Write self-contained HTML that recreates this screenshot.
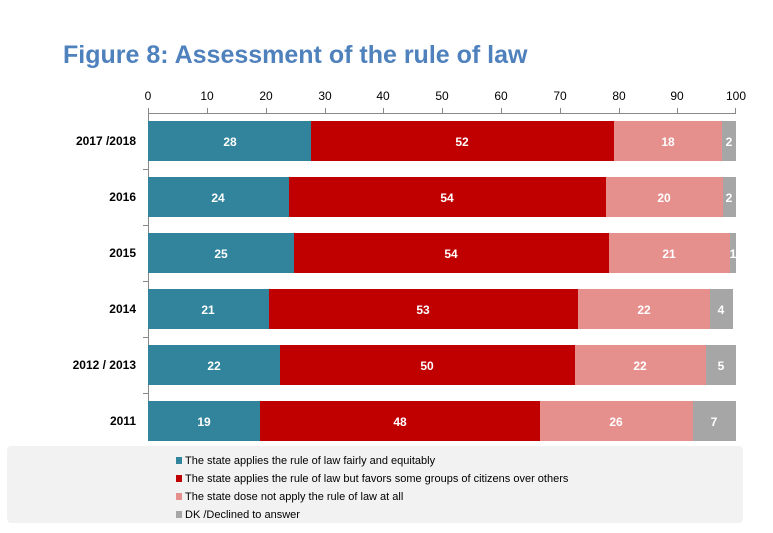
<!DOCTYPE html>
<html><head><style>body{margin:0;background:#fff}svg{display:block}</style></head><body>
<svg width="773" height="533" xmlns="http://www.w3.org/2000/svg" font-family="Liberation Sans, sans-serif">
<rect width="773" height="533" fill="#fff"/>
<text x="63" y="63" font-size="25" font-weight="bold" fill="#4F81BD">Figure 8: Assessment of the rule of law</text>
<g font-size="12" fill="#000" text-anchor="middle">
<text x="148" y="100">0</text><text x="207" y="100">10</text><text x="266" y="100">20</text><text x="325" y="100">30</text><text x="383" y="100">40</text><text x="442" y="100">50</text><text x="501" y="100">60</text><text x="560" y="100">70</text><text x="619" y="100">80</text><text x="677" y="100">90</text><text x="736" y="100">100</text>
</g>
<g stroke="#888" stroke-width="1">
<line x1="148" y1="113.5" x2="736" y2="113.5"/>
<line x1="148.5" y1="108" x2="148.5" y2="441"/>
<line x1="207.5" y1="108" x2="207.5" y2="113"/><line x1="266.5" y1="108" x2="266.5" y2="113"/><line x1="325.5" y1="108" x2="325.5" y2="113"/><line x1="383.5" y1="108" x2="383.5" y2="113"/><line x1="442.5" y1="108" x2="442.5" y2="113"/><line x1="501.5" y1="108" x2="501.5" y2="113"/><line x1="560.5" y1="108" x2="560.5" y2="113"/><line x1="619.5" y1="108" x2="619.5" y2="113"/><line x1="677.5" y1="108" x2="677.5" y2="113"/><line x1="735.5" y1="108" x2="735.5" y2="113"/>
<line x1="143" y1="169.5" x2="148" y2="169.5"/><line x1="143" y1="225.5" x2="148" y2="225.5"/><line x1="143" y1="281.5" x2="148" y2="281.5"/><line x1="143" y1="337.5" x2="148" y2="337.5"/><line x1="143" y1="393.5" x2="148" y2="393.5"/>
</g>
<g font-size="12" font-weight="bold" text-anchor="end" fill="#000">
<text x="136" y="145">2017 /2018</text><text x="136" y="201">2016</text><text x="136" y="257">2015</text><text x="136" y="313">2014</text><text x="136" y="369">2012 / 2013</text><text x="136" y="425">2011</text>
</g>
<g>
<rect x="148" y="121" width="163" height="40" fill="#31849B"/><rect x="311" y="121" width="303" height="40" fill="#C00000"/><rect x="614" y="121" width="108" height="40" fill="#E6908E"/><rect x="722" y="121" width="14" height="40" fill="#A6A6A6"/>
<rect x="148" y="177" width="141" height="40" fill="#31849B"/><rect x="289" y="177" width="317" height="40" fill="#C00000"/><rect x="606" y="177" width="117" height="40" fill="#E6908E"/><rect x="723" y="177" width="13" height="40" fill="#A6A6A6"/>
<rect x="148" y="233" width="146" height="40" fill="#31849B"/><rect x="294" y="233" width="315" height="40" fill="#C00000"/><rect x="609" y="233" width="121" height="40" fill="#E6908E"/><rect x="730" y="233" width="6" height="40" fill="#A6A6A6"/>
<rect x="148" y="289" width="121" height="40" fill="#31849B"/><rect x="269" y="289" width="309" height="40" fill="#C00000"/><rect x="578" y="289" width="132" height="40" fill="#E6908E"/><rect x="710" y="289" width="23" height="40" fill="#A6A6A6"/>
<rect x="148" y="345" width="132" height="40" fill="#31849B"/><rect x="280" y="345" width="295" height="40" fill="#C00000"/><rect x="575" y="345" width="131" height="40" fill="#E6908E"/><rect x="706" y="345" width="30" height="40" fill="#A6A6A6"/>
<rect x="148" y="401" width="112" height="40" fill="#31849B"/><rect x="260" y="401" width="280" height="40" fill="#C00000"/><rect x="540" y="401" width="153" height="40" fill="#E6908E"/><rect x="693" y="401" width="43" height="40" fill="#A6A6A6"/>
</g>
<g font-size="12" font-weight="bold" fill="#fff" text-anchor="middle">
<text x="230" y="146">28</text><text x="462" y="146">52</text><text x="668" y="146">18</text><text x="729" y="146">2</text>
<text x="218" y="202">24</text><text x="447" y="202">54</text><text x="664" y="202">20</text><text x="729" y="202">2</text>
<text x="221" y="258">25</text><text x="451" y="258">54</text><text x="669" y="258">21</text><text x="733" y="258">1</text>
<text x="208" y="314">21</text><text x="423" y="314">53</text><text x="644" y="314">22</text><text x="721" y="314">4</text>
<text x="214" y="370">22</text><text x="427" y="370">50</text><text x="640" y="370">22</text><text x="721" y="370">5</text>
<text x="204" y="426">19</text><text x="400" y="426">48</text><text x="616" y="426">26</text><text x="714" y="426">7</text>
</g>
<rect x="7" y="446" width="736" height="77" rx="4" fill="#F2F2F2"/>
<g font-size="11" fill="#000">
<rect x="176" y="457" width="6" height="7" fill="#31849B"/><text x="185" y="464">The state applies the rule of law fairly and equitably</text>
<rect x="176" y="475" width="6" height="7" fill="#C00000"/><text x="185" y="482">The state applies the rule of law but favors some groups of citizens over others</text>
<rect x="176" y="493" width="6" height="7" fill="#E6908E"/><text x="185" y="500">The state dose not apply the rule of law at all</text>
<rect x="176" y="511" width="6" height="7" fill="#A6A6A6"/><text x="185" y="518">DK /Declined to answer</text>
</g>
</svg>
</body></html>
